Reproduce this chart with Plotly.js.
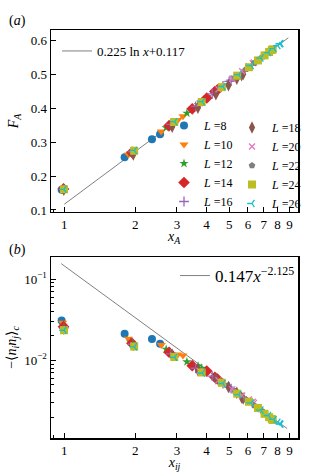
<!DOCTYPE html>
<html>
<head>
<meta charset="utf-8">
<script src="https://cdn.plot.ly/plotly-3.0.1.min.js"></script>
<style>
  html, body { margin: 0; padding: 0; background: #fff; }
  #chart { width: 332px; height: 472px; }
</style>
</head>
<body>
<div id="chart"></div>
<script>
// system sizes
var sizes = [8, 10, 12, 14, 16, 18, 20, 22, 24, 26];

// chord distances x_A / x_ij (same for both panels)
var x8  = [0.974, 1.801, 2.352, 2.546];
var x10 = [0.984, 1.871, 2.575, 3.027, 3.183];
var x12 = [0.989, 1.910, 2.701, 3.308, 3.690, 3.820];
var x14 = [0.992, 1.934, 2.779, 3.484, 4.015, 4.345, 4.456];
var x16 = [0.994, 1.949, 2.829, 3.601, 4.235, 4.705, 4.995, 5.093];
var x18 = [0.995, 1.960, 2.865, 3.683, 4.389, 4.962, 5.384, 5.643, 5.730];
var x20 = [0.996, 1.967, 2.890, 3.742, 4.502, 5.150, 5.672, 6.055, 6.288, 6.366];
var x22 = [0.997, 1.973, 2.909, 3.786, 4.586, 5.292, 5.892, 6.370, 6.719, 6.932, 7.003];
var x24 = [0.997, 1.977, 2.923, 3.820, 4.651, 5.402, 6.061, 6.616, 7.058, 7.379, 7.574, 7.639];
var x26 = [0.997, 1.981, 2.935, 3.846, 4.701, 5.488, 6.195, 6.811, 7.328, 7.738, 8.035, 8.216, 8.276];

// panel (a): F_A
var F8  = [0.160, 0.256, 0.309, 0.324];
var F10 = [0.161, 0.264, 0.332, 0.366, 0.377];
var F12 = [0.161, 0.268, 0.343, 0.386, 0.411, 0.418];
var F14 = [0.162, 0.270, 0.349, 0.399, 0.431, 0.450, 0.455];
var F16 = [0.161, 0.272, 0.353, 0.406, 0.443, 0.467, 0.480, 0.484];
var F18 = [0.160, 0.264, 0.346, 0.402, 0.442, 0.469, 0.488, 0.498, 0.502];
var F20 = [0.161, 0.274, 0.358, 0.415, 0.457, 0.488, 0.510, 0.525, 0.534, 0.536];
var F22 = [0.161, 0.275, 0.359, 0.417, 0.460, 0.492, 0.516, 0.534, 0.546, 0.553, 0.555];
var F24 = [0.161, 0.275, 0.360, 0.419, 0.463, 0.497, 0.522, 0.542, 0.557, 0.567, 0.573, 0.575];
var F26 = [0.161, 0.276, 0.361, 0.420, 0.465, 0.500, 0.527, 0.549, 0.565, 0.577, 0.586, 0.591, 0.592];

// panel (b): -<n_i n_j>_c
var C8  = [0.031, 0.0213, 0.0183, 0.0160];
var C10 = [0.029, 0.0185, 0.0155, 0.0118, 0.0115];
var C12 = [0.027, 0.0168, 0.0137, 0.0096, 0.0085, 0.0080];
var C14 = [0.026, 0.0162, 0.0126, 0.0086, 0.0074, 0.0062, 0.0059];
var C16 = [0.025, 0.0158, 0.0120, 0.0080, 0.0064, 0.0052, 0.0047, 0.0045];
var C18 = [0.0245, 0.0156, 0.0117, 0.0076, 0.0060, 0.0047, 0.0040, 0.0035, 0.0034];
var C20 = [0.024, 0.0153, 0.0115, 0.0074, 0.0057, 0.0044, 0.0037, 0.0033, 0.0031, 0.0030];
var C22 = [0.024, 0.0152, 0.0113, 0.0072, 0.0055, 0.0041, 0.0033, 0.0028, 0.0025, 0.00235, 0.0023];
var C24 = [0.0235, 0.0148, 0.0110, 0.0071, 0.0053, 0.0039, 0.0031, 0.0026, 0.0022, 0.0020, 0.0019, 0.00185];
var C26 = [0.0235, 0.0147, 0.0109, 0.0070, 0.0052, 0.0038, 0.0030, 0.00245, 0.0021, 0.00188, 0.00174, 0.00166, 0.00164];

// fit lines (end points)
var fitAx = [1.0, 8.9];
var fitAy = [0.117, 0.609];
var fitBx = [0.97, 8.8];
var fitBy = [0.155, 0.00145];

var xs = [x8, x10, x12, x14, x16, x18, x20, x22, x24, x26];
var Fs = [F8, F10, F12, F14, F16, F18, F20, F22, F24, F26];
var Cs = [C8, C10, C12, C14, C16, C18, C20, C22, C24, C26];

var colors = ['#1f77b4', '#ff7f0e', '#2ca02c', '#d62728', '#9467bd',
              '#8c564b', '#e377c2', '#7f7f7f', '#bcbd22', '#17becf'];
var symbols = ['circle', 'triangle-down', 'star', 'diamond', 'cross-thin',
               'diamond-tall', 'x-thin', 'pentagon', 'square', 'y-left'];
var msize = [8, 8, 7, 9, 7, 9, 6, 7, 8, 6];
var thin = ['cross-thin', 'x-thin', 'y-left'];

var serif = 'Liberation Serif, DejaVu Serif, serif';

function mk(i, panel) {
  var isThin = thin.indexOf(symbols[i]) >= 0;
  var m = {symbol: symbols[i], size: msize[i], color: colors[i]};
  m.line = isThin ? {color: colors[i], width: 1.3} : {width: 0};
  return {
    x: xs[i], y: panel === 'a' ? Fs[i] : Cs[i],
    type: 'scatter', mode: 'markers', marker: m,
    name: '<i>L</i> =' + sizes[i],
    xaxis: panel === 'a' ? 'x' : 'x2',
    yaxis: panel === 'a' ? 'y' : 'y2',
    showlegend: panel === 'a',
    legend: i < 5 ? 'legend2' : 'legend3'
  };
}

var data = [];
data.push({
  x: fitAx, y: fitAy, type: 'scatter', mode: 'lines',
  line: {color: '#808080', width: 1},
  name: '0.225 ln <i>x</i>+0.117', xaxis: 'x', yaxis: 'y', legend: 'legend', showlegend: true
});
for (var i = 0; i < sizes.length; i++) data.push(mk(i, 'a'));
data.push({
  x: fitBx, y: fitBy, type: 'scatter', mode: 'lines',
  line: {color: '#808080', width: 1},
  name: '0.147<i>x</i><sup>−2.125</sup>', xaxis: 'x2', yaxis: 'y2', legend: 'legend4'
});
for (var j = 0; j < sizes.length; j++) data.push(mk(j, 'b'));

var xticks = [1, 2, 3, 4, 5, 6, 7, 8, 9];
var xrange = [Math.log10(0.878), Math.log10(9.78)];

function xax(anchor, title) {
  return {
    type: 'log', range: xrange, anchor: anchor,
    tickmode: 'array', tickvals: xticks, ticktext: xticks.map(String),
    ticks: 'inside', ticklen: 5, tickwidth: 1, tickcolor: '#000',
    minor: {tickmode: 'array', tickvals: [0.9], ticks: 'inside', ticklen: 3, tickcolor: '#000'},
    showline: true, linewidth: 1.5, linecolor: '#000', mirror: true,
    showgrid: false, zeroline: false,
    tickfont: {family: serif, size: 13, color: '#000'},
    title: {text: title, font: {family: serif, size: 14, color: '#000'}, standoff: 0}
  };
}

var minorB = [];
[0.001, 0.01].forEach(function (d) {
  for (var k = 2; k <= 9; k++) minorB.push(+(k * d).toFixed(4));
});

// legend boxes in paper units of the plot area (51..298 px, 30..438 px)
function px(v) { return (v - 51) / 247; }
function py(v) { return (438 - v) / 408; }

function leg(x, y, size) {
  return {
    x: px(x), y: py(y), xanchor: 'left', yanchor: 'top',
    bgcolor: 'rgba(0,0,0,0)', font: {family: serif, size: size, color: '#000'}
  };
}

var layout = {
  width: 332, height: 472,
  margin: {l: 51, r: 34, t: 30, b: 34},
  paper_bgcolor: '#fff', plot_bgcolor: '#fff',
  font: {family: serif, size: 13, color: '#000'},
  showlegend: true,
  xaxis: xax('y', ''),
  xaxis2: xax('y2', '<i>x<sub>ij</sub></i>'),
  yaxis: {
    domain: [0.554, 1], range: [0.094, 0.632], anchor: 'x',
    tickmode: 'array', tickvals: [0.1, 0.2, 0.3, 0.4, 0.5, 0.6],
    ticktext: ['0.1', '0.2', '0.3', '0.4', '0.5', '0.6'],
    ticks: 'inside', ticklen: 5, tickcolor: '#000',
    showline: true, linewidth: 1.5, linecolor: '#000', mirror: true,
    showgrid: false, zeroline: false,
    tickfont: {family: serif, size: 13, color: '#000'},
    title: {text: '<i>F<sub>A</sub></i>', font: {family: serif, size: 14, color: '#000'}, standoff: 8}
  },
  yaxis2: {
    type: 'log', domain: [0, 0.4436], range: [Math.log10(0.00111), Math.log10(0.187)], anchor: 'x2',
    tickmode: 'array', tickvals: [0.1, 0.01], ticktext: ['10<sup>−1</sup>', '10<sup>−2</sup>'],
    ticks: 'inside', ticklen: 5, tickcolor: '#000',
    minor: {tickmode: 'array', tickvals: minorB, ticks: 'inside', ticklen: 3, tickcolor: '#000'},
    showline: true, linewidth: 1.5, linecolor: '#000', mirror: true,
    showgrid: false, zeroline: false,
    tickfont: {family: serif, size: 13, color: '#000'},
    title: {text: '−⟨<i>n<sub>i</sub>n<sub>j</sub></i>⟩<sub><i>c</i></sub>', font: {family: serif, size: 14, color: '#000'}, standoff: 4}
  },
  legend: leg(57, 36, 13),
  legend2: leg(164, 111, 12),
  legend3: leg(232, 113, 12),
  legend4: leg(175, 258, 17),
  annotations: [
    {text: '(<i>a</i>)', xref: 'paper', yref: 'paper', x: px(17), y: py(21),
     xanchor: 'center', yanchor: 'middle', showarrow: false, font: {family: serif, size: 14}},
    {text: '(<i>b</i>)', xref: 'paper', yref: 'paper', x: px(17), y: py(250),
     xanchor: 'center', yanchor: 'middle', showarrow: false, font: {family: serif, size: 14}},
    {text: '<i>x<sub>A</sub></i>', xref: 'paper', yref: 'paper', x: px(174), y: py(237),
     xanchor: 'center', yanchor: 'middle', showarrow: false, font: {family: serif, size: 14}}
  ]
};

Plotly.newPlot('chart', data, layout, {displayModeBar: false, staticPlot: true});
</script>
</body>
</html>
